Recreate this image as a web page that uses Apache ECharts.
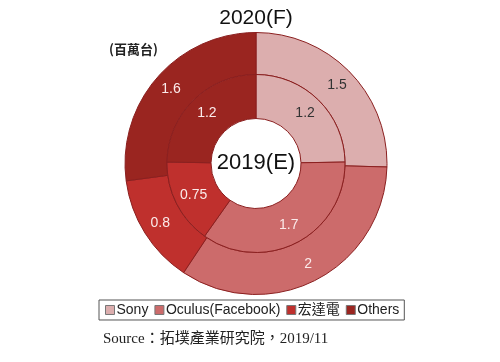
<!DOCTYPE html>
<html><head><meta charset="utf-8">
<script src="https://cdn.jsdelivr.net/npm/echarts@6/dist/echarts.min.js"></script>
<style>html,body{margin:0;padding:0;background:#fff}#c{width:500px;height:362px}</style>
</head><body><div id="c"></div>
<script>
const categories = ['Sony', 'Oculus(Facebook)', '宏達電', 'Others'];
const values2020 = [1.5, 2, 0.8, 1.6];
const values2019 = [1.2, 1.7, 0.75, 1.2];
const colors = ['#dcaeae', '#cc6b6b', '#bf302d', '#9a2520'];
const labelColors = ['#333333', '#fbeaea', '#fbeaea', '#fbeaea'];

const chart = echarts.init(document.getElementById('c'));
function mk(vals){
  return vals.map((v,i)=>({name:categories[i], value:v,
    label:{color:labelColors[i]}}));
}
const common = {
  type:'pie', center:[256,163.5], startAngle:90, clockwise:true,
  silent:true, animation:false,
  itemStyle:{borderColor:'#8a1f1f', borderWidth:1},
  label:{show:true, position:'inside', formatter:'{c}', fontSize:14,
         fontFamily:'Arial, Liberation Sans, sans-serif'},
  labelLine:{show:false}, emphasis:{disabled:true}
};
chart.setOption({
  color: colors,
  title:[
    {text:'2020(F)', left:256, top:8, padding:0, textAlign:'center',
     textStyle:{fontSize:21, fontWeight:'normal', color:'#111', fontFamily:'Arial, Liberation Sans, sans-serif'}},
    {text:'2019(E)', left:256, top:152, padding:0, textAlign:'center',
     textStyle:{fontSize:22, fontWeight:'normal', color:'#111', fontFamily:'Arial, Liberation Sans, sans-serif'}},
    {text:'(百萬台)', left:109, top:43, padding:0,
     textStyle:{fontSize:13, fontWeight:'bold', color:'#222', fontFamily:'Noto Sans CJK TC, sans-serif'}},
    {text:'Source：拓墣產業研究院，2019/11', left:103, top:332, padding:0,
     textStyle:{fontSize:15, fontWeight:'normal', color:'#222', fontFamily:'Liberation Serif, Noto Sans CJK TC, serif'}}
  ],
  legend:{
    data:categories, left:99, top:300, orient:'horizontal',
    padding:[3,5,3,6], borderColor:'#555', borderWidth:1,
    itemWidth:9, itemHeight:9, itemGap:6, icon:'rect',
    itemStyle:{borderColor:'#777', borderWidth:1},
    textStyle:{fontSize:14, color:'#222', padding:[0,0,0,-3], fontFamily:'Arial, Liberation Sans, Noto Sans CJK TC, sans-serif'},
    selectedMode:false
  },
  series:[
    Object.assign({}, common, {name:'2020(F)', radius:[89,131], data:mk(values2020)}),
    Object.assign({}, common, {name:'2019(E)', radius:[45,89], data:mk(values2019)})
  ]
});
</script></body></html>
